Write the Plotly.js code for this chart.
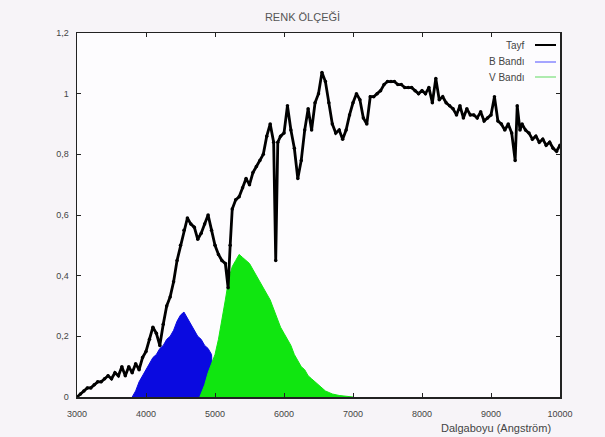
<!DOCTYPE html>
<html>
<head>
<meta charset="utf-8">
<script src="https://cdn.plot.ly/plotly-3.0.1.min.js"></script>
<style>html,body{margin:0;padding:0;background:#f7f4f8;}#chart{width:605px;height:437px;}</style>
</head>
<body>
<div id="chart"></div>
<script>
// Spectrum (Tayf)
const tayfX = [3000,3050,3100,3150,3200,3250,3300,3350,3400,3450,3500,3550,3600,3650,3700,3750,3800,3850,3900,3950,
  4000,4050,4100,4150,4200,4250,4300,4350,4400,4450,4500,4550,4600,4650,4700,4750,4800,4850,4900,4950,
  5000,5050,5100,5150,5190,5220,5250,5300,5350,5400,5450,5500,5550,5600,5650,5700,5750,5800,5850,5880,5910,5950,
  6000,6050,6100,6150,6200,6250,6300,6350,6400,6450,6500,6550,6600,6650,6700,6750,6800,6850,6900,6950,
  7000,7050,7100,7150,7200,7250,7300,7350,7400,7450,7500,7550,7600,7650,7700,7750,7800,7850,7900,7950,
  8000,8050,8100,8150,8200,8250,8300,8350,8400,8450,8500,8550,8600,8650,8700,8750,8800,8850,8900,8950,
  9000,9050,9100,9150,9200,9250,9300,9350,9380,9420,9450,9500,9550,9600,9650,9700,9750,9800,9850,9900,9950,10000];
const tayfY = [0.00,0.01,0.02,0.03,0.03,0.04,0.05,0.05,0.06,0.07,0.06,0.08,0.07,0.10,0.07,0.10,0.08,0.11,0.09,0.13,
  0.15,0.19,0.23,0.21,0.17,0.24,0.30,0.33,0.38,0.45,0.50,0.55,0.59,0.57,0.56,0.52,0.54,0.57,0.60,0.55,
  0.50,0.47,0.45,0.44,0.36,0.50,0.62,0.65,0.66,0.69,0.72,0.70,0.74,0.76,0.78,0.80,0.86,0.90,0.84,0.45,0.84,0.86,
  0.87,0.96,0.88,0.82,0.72,0.78,0.88,0.95,0.88,0.97,1.00,1.07,1.04,0.97,0.90,0.87,0.88,0.85,0.88,0.93,
  0.97,1.00,0.98,0.92,0.90,0.99,0.99,1.00,1.01,1.03,1.04,1.04,1.04,1.03,1.03,1.02,1.02,1.02,1.01,1.00,
  1.01,1.00,1.02,0.97,1.05,0.98,0.99,0.97,0.96,0.95,0.93,0.96,0.92,0.95,0.93,0.93,0.92,0.94,0.91,0.92,
  0.93,0.99,0.91,0.90,0.88,0.90,0.87,0.78,0.96,0.88,0.90,0.88,0.87,0.85,0.86,0.84,0.85,0.83,0.84,0.82,0.81,0.83];

// B band
const bX = [3800,3850,3900,3950,4000,4050,4100,4150,4200,4250,4300,4350,4400,4450,4500,4550,4600,4650,4700,4750,4800,4850,4900,4950,4980];
const bY = [0,0.02,0.05,0.07,0.09,0.11,0.13,0.14,0.16,0.17,0.19,0.20,0.22,0.25,0.27,0.28,0.26,0.24,0.22,0.20,0.19,0.17,0.16,0.14,0];

// V band
const vX = [4780,4850,4900,4950,5000,5050,5100,5150,5200,5250,5300,5350,5400,5450,5500,5550,5600,5650,5700,5750,5800,5850,5900,5950,
  6000,6050,6100,6150,6200,6250,6300,6350,6400,6450,6500,6550,6600,6700,6800,7000];
const vY = [0,0.04,0.08,0.11,0.14,0.19,0.25,0.32,0.39,0.43,0.45,0.47,0.46,0.45,0.44,0.42,0.40,0.38,0.36,0.34,0.32,0.29,0.26,0.23,
  0.21,0.19,0.17,0.14,0.12,0.10,0.09,0.07,0.06,0.05,0.04,0.03,0.02,0.01,0.005,0];

const xTicks = [3000,4000,5000,6000,7000,8000,9000,10000];
const xTickText = ['3000','4000','5000','6000','7000','8000','9000','10000'];
const yTicks = [0,0.2,0.4,0.6,0.8,1,1.2];
const yTickText = ['0','0,2','0,4','0,6','0,8','1','1,2'];
const names = ['Tayf','B Bandı','V Bandı'];

const data = [
  {x:bX, y:bY, type:'scatter', mode:'lines', fill:'tozeroy', fillcolor:'#0a0ae0', line:{color:'#0a0ae0', width:1}, name:names[1], showlegend:false},
  {x:vX, y:vY, type:'scatter', mode:'lines', fill:'tozeroy', fillcolor:'#10e610', line:{color:'#10e610', width:1}, name:names[2], showlegend:false},
  {x:tayfX, y:tayfY, type:'scatter', mode:'lines+markers', marker:{color:'#000', size:3.5}, line:{color:'#000', width:2.8}, name:names[0], showlegend:false}
];

const font = {family:'Liberation Sans, Arial, sans-serif', size:9, color:'#444'};
const legendY = [45, 62, 77];
const legendColors = ['#000','#6a6aff','#7ae07a'];
const legendWidths = [2,1.2,1.2];
const shapes = [], annotations = [];
names.forEach((n,i)=>{
  const yp = 1 - (legendY[i]-33)/364;
  annotations.push({text:n, xref:'paper', yref:'paper', x:(527-77)/483, y:yp, xanchor:'right', yanchor:'middle', showarrow:false, font:{family:font.family, size:10, color:'#444'}});
  shapes.push({type:'line', xref:'paper', yref:'paper', x0:(535-77)/483, x1:(556-77)/483, y0:yp, y1:yp, line:{color:legendColors[i], width:legendWidths[i]}});
});
annotations.push({text:'Dalgaboyu (Angström)', xref:'paper', yref:'paper', x:(553-77)/483, y:-31/364, xanchor:'right', yanchor:'middle', showarrow:false, font:{family:font.family, size:11, color:'#444'}});

const layout = {
  width:605, height:437,
  margin:{l:77, r:45, t:33, b:40},
  paper_bgcolor:'#f7f4f8',
  plot_bgcolor:'#fdfcfe',
  separators:',.',
  title:{text:'RENK ÖLÇEĞİ', font:{family:font.family, size:11, color:'#555'}, x:0.5, xref:'container', y:1-17/437, yref:'container', yanchor:'middle'},
  xaxis:{range:[3000,10000], tickvals:xTicks, ticktext:xTickText, ticks:'inside', ticklen:4, tickcolor:'#222', ticklabelstandoff:8, showline:true, linecolor:'#222', linewidth:1.5, mirror:'ticks', showgrid:false, zeroline:false, tickfont:font, fixedrange:true},
  yaxis:{range:[0,1.2], tickvals:yTicks, ticktext:yTickText, ticks:'inside', ticklen:4, tickcolor:'#222', ticklabelstandoff:5, showline:true, linecolor:'#222', linewidth:1.5, mirror:'ticks', showgrid:false, zeroline:false, tickfont:font, fixedrange:true},
  shapes:shapes,
  annotations:annotations,
  showlegend:false
};
Plotly.newPlot('chart', data, layout, {displayModeBar:false, staticPlot:true});
</script>
</body>
</html>
